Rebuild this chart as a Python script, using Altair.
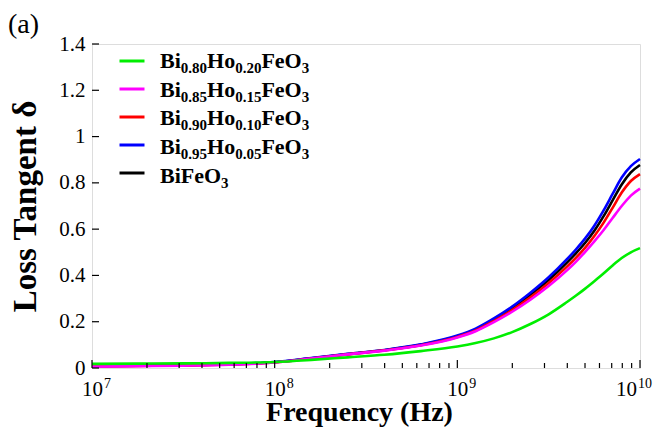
import altair as alt
import pandas as pd

# ---- data ----
log_f = [7.0, 7.25, 7.5, 7.75, 8.0, 8.2, 8.4, 8.6, 8.8, 9.0, 9.1, 9.2, 9.3, 9.4,
         9.5, 9.6, 9.65, 9.7, 9.75, 9.8, 9.85, 9.9, 9.95, 10.0]
bfo = [.008, .010, .012, .016, .025, .042, .060, .077, .100, .137, .166, .209, .258, .316,
       .380, .455, .496, .541, .593, .655, .724, .793, .845, .877]
ho05 = [.010, .011, .013, .017, .026, .043, .061, .078, .102, .140, .170, .214, .265, .325,
        .392, .470, .513, .560, .615, .680, .752, .823, .872, .903]
ho10 = [.007, .009, .011, .015, .024, .041, .059, .076, .098, .134, .162, .203, .250, .305,
        .367, .438, .477, .520, .570, .627, .692, .758, .808, .838]
ho15 = [.006, .008, .010, .014, .024, .041, .059, .075, .097, .132, .159, .198, .243, .295,
        .354, .422, .460, .502, .547, .595, .648, .700, .745, .775]
ho20 = [.018, .019, .020, .022, .026, .035, .046, .057, .073, .093, .108, .128, .155, .190,
        .232, .285, .313, .343, .375, .408, .443, .475, .500, .518]

names = ["Bi0.80Ho0.20FeO3", "Bi0.85Ho0.15FeO3", "Bi0.90Ho0.10FeO3",
         "Bi0.95Ho0.05FeO3", "BiFeO3"]
colors = ["#00ee00", "#ff00ff", "#ff0000", "#0000ff", "#000000"]
series = [ho20, ho15, ho10, ho05, bfo]

# legend label pieces: (text, is_subscript)
label_parts = [
    [("Bi", 0), ("0.80", 1), ("Ho", 0), ("0.20", 1), ("FeO", 0), ("3", 1)],
    [("Bi", 0), ("0.85", 1), ("Ho", 0), ("0.15", 1), ("FeO", 0), ("3", 1)],
    [("Bi", 0), ("0.90", 1), ("Ho", 0), ("0.10", 1), ("FeO", 0), ("3", 1)],
    [("Bi", 0), ("0.95", 1), ("Ho", 0), ("0.05", 1), ("FeO", 0), ("3", 1)],
    [("BiFeO", 0), ("3", 1)],
]

y_ticks = [0, 0.2, 0.4, 0.6, 0.8, 1.0, 1.2, 1.4]
x_exps = [7, 8, 9, 10]
x_minor = [m * 10 ** e for e in (7, 8, 9) for m in range(2, 10)]

# ---- layout ----
W, H = 548, 324
FONT = "Liberation Serif"

rows = []
draw_order = [4, 3, 2, 1, 0]  # black first, green on top
for i in draw_order:
    for lf, v in zip(log_f, series[i]):
        rows.append({"f": 10 ** lf, "v": v, "s": names[i], "o": draw_order.index(i)})
df = pd.DataFrame(rows)

xscale = alt.Scale(type="log", domain=[1e7, 1e10])
yscale = alt.Scale(domain=[0, 1.4])

lines = alt.Chart(df).mark_line(strokeWidth=2.6, interpolate="monotone").encode(
    x=alt.X("f:Q", scale=xscale,
            axis=alt.Axis(labels=False, ticks=False, domain=False, grid=False,
                          title="Frequency (Hz)", titleFont=FONT, titleFontSize=28,
                          titleFontWeight="bold", titleColor="black",
                          titlePadding=30, titleX=267)),
    y=alt.Y("v:Q", scale=yscale,
            axis=alt.Axis(values=y_ticks, format=".1~f", ticks=False, domain=False,
                          grid=False, labelFont=FONT, labelFontSize=21,
                          labelColor="black", labelPadding=7,
                          title="Loss Tangent δ", titleFont=FONT, titleFontSize=33,
                          titleFontWeight="bold", titleColor="black",
                          titlePadding=16)),
    color=alt.Color("s:N", scale=alt.Scale(domain=names, range=colors),
                    legend=alt.Legend(orient="none", legendX=26, legendY=3,
                                      symbolType="stroke", symbolSize=625,
                                      symbolStrokeWidth=3, labelExpr="''",
                                      title=None, rowPadding=8, padding=0,
                                      labelFontSize=1, labelLimit=1)),
    order=alt.Order("o:Q"),
    detail="s:N",
)

# inward ticks
ydf = pd.DataFrame({"v": y_ticks})
yt = alt.Chart(ydf).mark_rule(color="black", strokeWidth=1.2).encode(
    y=alt.Y("v:Q", scale=yscale), x=alt.value(0), x2=alt.value(7))

xmaj = pd.DataFrame({"f": [10 ** e for e in x_exps]})
xt_major = alt.Chart(xmaj).mark_rule(color="black", strokeWidth=1.2).encode(
    x=alt.X("f:Q", scale=xscale), y=alt.value(H), y2=alt.value(H - 8))
xmin = pd.DataFrame({"f": x_minor})
xt_minor = alt.Chart(xmin).mark_rule(color="black", strokeWidth=1.2).encode(
    x=alt.X("f:Q", scale=xscale), y=alt.value(H), y2=alt.value(H - 5))

# x tick labels 10^n
xlab = pd.DataFrame({"f": [10 ** e for e in x_exps], "base": ["10"] * 4,
                     "exp": [str(e) for e in x_exps], "e": x_exps})


def tick_label(filt, shift):
    base = alt.Chart(xlab).transform_filter(filt).mark_text(
        font=FONT, fontSize=21, color="black", align="right",
        baseline="alphabetic", dx=shift).encode(
        x=alt.X("f:Q", scale=xscale), y=alt.value(H + 28), text="base:N")
    sup = alt.Chart(xlab).transform_filter(filt).mark_text(
        font=FONT, fontSize=14, color="black", align="left",
        baseline="alphabetic", dx=shift + 1).encode(
        x=alt.X("f:Q", scale=xscale), y=alt.value(H + 20), text="exp:N")
    return [base, sup]


xl = tick_label("datum.e < 10", 11) + tick_label("datum.e >= 10", -3)

# legend text with subscripts
widths = {"B": .667, "i": .278, "H": .778, "o": .5, "F": .611, "e": .444, "O": .778,
          ".": .25}
for d in "0123456789":
    widths[d] = .5
MAIN, SUB = 22, 15
leg_layers = []
for r, parts in enumerate(label_parts):
    x0 = 68
    base_y = 17.7 + 28.6 * r + 6.5
    for txt, sub in parts:
        size = SUB if sub else MAIN
        yy = base_y + (5 if sub else 0)
        leg_layers.append(
            alt.Chart(pd.DataFrame({"t": [txt]})).mark_text(
                font=FONT, fontSize=size, fontWeight="bold", color="black",
                align="left", baseline="alphabetic").encode(
                x=alt.value(x0), y=alt.value(yy), text="t:N"))
        x0 += sum(widths[c] for c in txt) * size

panel = alt.Chart(pd.DataFrame({"t": ["(a)"]})).mark_text(
    font=FONT, fontSize=28, color="black", align="left", baseline="alphabetic").encode(
    x=alt.value(-84), y=alt.value(-11), text="t:N")

chart = alt.layer(lines, yt, xt_major, xt_minor, *xl, panel, *leg_layers).properties(
    width=W, height=H,
    autosize=alt.AutoSizeParams(type="none"),
    padding={"left": 84, "top": 36, "right": 15, "bottom": 60},
).configure_view(stroke="black", strokeWidth=1.5).configure(background="white")

chart.save("out.html", embed_options={"renderer": "svg", "actions": False})
